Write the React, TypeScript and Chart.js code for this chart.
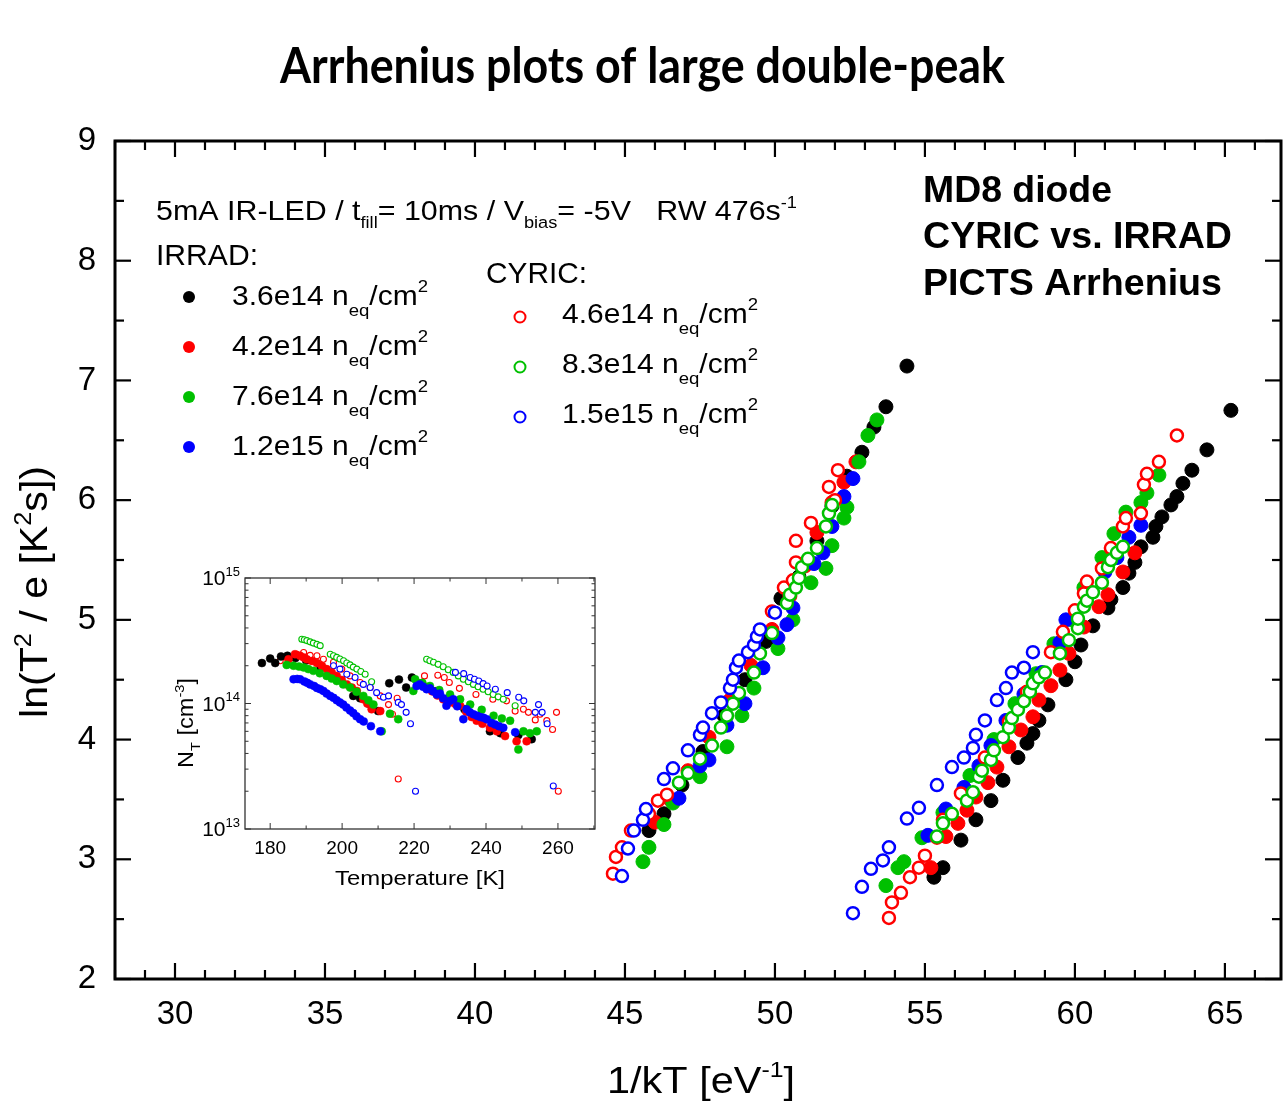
import React, { useEffect, useRef } from 'react';
import { Chart, registerables } from 'chart.js';
Chart.register(...registerables);

type P = [number, number];

// ---------- main chart data: [1/kT (eV^-1), ln(T^2/e)] ----------
const IRRAD_36E14: P[] = [
  [45.8, 3.24], [46.3, 3.38], [46.9, 3.62], [47.6, 3.9], [48.3, 4.2], [49.0, 4.5], [49.7, 4.82], [50.2, 5.18],
  [50.8, 5.36], [51.4, 5.66], [51.9, 5.95], [52.4, 6.2], [52.9, 6.4], [53.3, 6.61], [53.7, 6.78], [54.4, 7.12],
  [55.3, 2.85], [55.6, 2.93], [56.2, 3.16], [56.7, 3.33], [57.2, 3.49], [57.6, 3.66], [58.1, 3.85], [58.4, 3.97],
  [58.6, 4.05], [58.8, 4.16], [59.1, 4.29], [59.7, 4.5], [60.0, 4.65], [60.2, 4.79], [60.6, 4.95], [61.1, 5.1],
  [61.2, 5.17], [61.6, 5.27], [61.8, 5.39], [62.0, 5.48], [62.2, 5.61], [62.6, 5.69], [62.7, 5.78], [62.9, 5.86],
  [63.2, 5.96], [63.4, 6.03], [63.6, 6.14], [63.9, 6.25], [64.4, 6.42], [65.2, 6.75],
];
const IRRAD_42E14: P[] = [
  [46.0, 3.31], [46.5, 3.5], [47.1, 3.74], [47.8, 4.02], [48.5, 4.33], [49.2, 4.62], [49.9, 4.92], [50.5, 5.2],
  [51.0, 5.45], [51.4, 5.73], [51.9, 5.98], [52.3, 6.15], [52.7, 6.32],
  [55.2, 2.93], [55.7, 3.19], [56.1, 3.3], [56.4, 3.41], [56.7, 3.52], [57.1, 3.64], [57.4, 3.77], [57.8, 3.94],
  [58.2, 4.08], [58.6, 4.19], [58.8, 4.33], [59.2, 4.45], [59.5, 4.58], [59.8, 4.72], [60.3, 4.94], [60.8, 5.11],
  [61.1, 5.21], [61.6, 5.4], [62.0, 5.56],
];
const IRRAD_76E14: P[] = [
  [45.6, 2.98], [45.8, 3.1], [46.3, 3.29], [46.6, 3.47], [47.5, 3.69], [48.4, 3.94], [48.9, 4.2], [49.3, 4.43],
  [50.1, 4.76], [50.6, 5.0], [51.2, 5.31], [51.7, 5.43], [51.9, 5.62], [52.3, 5.85], [52.4, 5.94], [52.8, 6.32],
  [53.1, 6.54], [53.4, 6.67],
  [53.7, 2.78], [54.1, 2.93], [54.3, 2.98], [54.9, 3.18], [55.6, 3.39], [56.5, 3.7], [57.3, 4.0], [58.0, 4.3],
  [58.7, 4.55], [59.3, 4.8], [59.9, 5.0], [60.3, 5.27], [60.9, 5.52], [61.3, 5.72], [61.7, 5.9], [62.2, 5.98],
  [62.4, 6.06], [62.8, 6.21],
];
const IRRAD_12E15: P[] = [
  [46.8, 3.51], [47.5, 3.78], [47.8, 3.83], [48.4, 4.12], [49.0, 4.3], [49.6, 4.6], [50.1, 4.85], [50.4, 4.96],
  [50.6, 5.1], [51.3, 5.47], [51.6, 5.56], [51.9, 5.78], [52.3, 6.03], [52.6, 6.18],
  [55.1, 3.2], [55.7, 3.42], [56.3, 3.6], [56.8, 3.78], [57.2, 3.95], [57.7, 4.16], [58.3, 4.38], [58.9, 4.56],
  [59.5, 4.81], [59.7, 5.0], [60.4, 5.2], [61.0, 5.4], [61.4, 5.52], [61.8, 5.69], [62.2, 5.79],
];
const CYRIC_46E14: P[] = [
  [44.6, 2.88], [44.7, 3.02], [44.9, 3.1], [45.2, 3.24], [45.8, 3.38], [46.1, 3.49], [46.4, 3.54], [49.9, 5.07],
  [50.3, 5.27], [50.6, 5.33], [50.7, 5.48], [50.7, 5.66], [51.2, 5.81], [52.0, 6.0], [51.8, 6.11], [52.1, 6.25],
  [53.8, 2.51], [53.9, 2.64], [54.2, 2.72], [54.5, 2.85], [54.8, 2.93], [55.0, 3.03], [55.4, 3.18], [55.6, 3.33],
  [56.2, 3.55], [57.0, 3.85], [57.8, 4.15], [58.4, 4.4], [59.2, 4.73], [59.6, 4.9], [60.0, 5.08], [60.3, 5.22],
  [60.4, 5.32], [60.9, 5.43], [61.2, 5.6], [61.6, 5.78], [61.7, 5.85], [62.2, 5.89], [62.3, 6.13], [62.4, 6.22],
  [62.8, 6.32], [63.4, 6.54],
];
const CYRIC_83E14: P[] = [
  [46.8, 3.64], [47.1, 3.72], [47.5, 3.84], [47.9, 3.95], [48.2, 4.1], [48.4, 4.2], [48.6, 4.3], [48.8, 4.39],
  [49.3, 4.56], [49.5, 4.72], [49.9, 4.89], [50.4, 5.14], [50.5, 5.21], [50.7, 5.27], [50.8, 5.35], [50.9, 5.44],
  [51.1, 5.51], [51.4, 5.6], [51.7, 5.78], [51.8, 5.89], [51.9, 5.96],
  [55.4, 3.19], [55.6, 3.3], [55.9, 3.38], [56.4, 3.49], [56.6, 3.56], [56.8, 3.69], [56.9, 3.74], [57.2, 3.83],
  [57.3, 3.91], [57.6, 4.02], [57.8, 4.1], [57.9, 4.18], [58.1, 4.25], [58.3, 4.32], [58.5, 4.4], [58.6, 4.47],
  [58.8, 4.52], [59.0, 4.56], [59.5, 4.72], [59.8, 4.83], [60.1, 4.93], [60.1, 5.01], [60.3, 5.11], [60.4, 5.16],
  [60.6, 5.23], [60.9, 5.31], [61.1, 5.44], [61.2, 5.5], [61.4, 5.56], [61.6, 5.61],
];
const CYRIC_15E15: P[] = [
  [44.9, 2.86], [45.1, 3.09], [45.3, 3.24], [45.6, 3.33], [45.7, 3.42], [46.3, 3.67], [46.6, 3.76], [47.1, 3.91],
  [47.5, 4.04], [47.6, 4.1], [47.9, 4.22], [48.2, 4.31], [48.5, 4.43], [48.6, 4.5], [48.7, 4.6], [48.8, 4.66],
  [49.1, 4.73], [49.3, 4.79], [49.4, 4.86], [49.5, 4.92], [50.0, 5.06],
  [52.6, 2.55], [52.9, 2.77], [53.2, 2.92], [53.6, 2.99], [53.8, 3.1], [54.4, 3.34], [54.8, 3.43], [55.4, 3.62],
  [55.9, 3.77], [56.3, 3.85], [56.6, 3.93], [56.7, 4.04], [57.0, 4.16], [57.4, 4.33], [57.7, 4.43], [57.9, 4.56],
  [58.3, 4.6], [58.6, 4.73],
];

// ---------- inset data: [Temperature (K), N_T (cm^-3)] ----------
const INSET_IRRAD_36E14: P[] = [
  [177.7, 2.1e14], [180, 2.28e14], [181.4, 2.1e14], [183, 2.37e14], [184.8, 2.4e14], [187, 2.3e14], [190, 2.2e14],
  [194, 1.95e14], [198, 1.6e14], [203.1, 1.15e14], [205, 1.1e14], [207.3, 1.0e14], [210, 0.87e14],
  [213.1, 1.45e14], [215.8, 1.55e14], [217.8, 1.34e14], [219.4, 1.61e14], [222, 1.45e14], [226, 1.25e14],
  [230, 1.05e14], [234, 0.9e14], [238, 0.75e14], [241.1, 0.6e14], [244, 0.58e14], [249, 0.56e14], [252.7, 0.52e14],
];
const INSET_IRRAD_42E14: P[] = [
  [185.1, 2.25e14], [186.9, 2.47e14], [188.3, 2.4e14], [189.3, 2.33e14], [190.2, 2.25e14], [191.6, 2.18e14],
  [193, 2.1e14], [194.4, 1.99e14], [195.7, 1.88e14], [197.1, 1.77e14], [198.5, 1.66e14], [199.9, 1.54e14],
  [201.3, 1.42e14], [202.7, 1.34e14], [204.1, 1.26e14], [205.9, 1.08e14], [207, 1.0e14], [208.2, 0.9e14],
  [210.6, 0.87e14], [222.6, 1.38e14], [224, 1.32e14], [225, 1.25e14], [226.5, 1.16e14], [228.1, 1.08e14],
  [230, 1.02e14], [231.5, 0.99e14], [232.8, 0.96e14], [234.5, 0.86e14], [236, 0.78e14], [237.4, 0.73e14],
  [239, 0.69e14], [241.1, 0.64e14], [243, 0.6e14], [245.3, 0.55e14], [248.5, 0.5e14], [251.3, 0.5e14],
];
const INSET_IRRAD_76E14: P[] = [
  [184.6, 2.03e14], [186.5, 2.0e14], [188, 1.97e14], [189.3, 1.94e14], [190.6, 1.88e14], [192, 1.82e14],
  [193.8, 1.74e14], [195.7, 1.66e14], [197.1, 1.58e14], [198.5, 1.51e14], [200.3, 1.42e14], [202.2, 1.34e14],
  [204, 1.24e14], [205.9, 1.15e14], [207.3, 1.06e14], [208.7, 0.98e14], [211, 0.6e14], [213.3, 0.83e14],
  [215.6, 0.75e14], [219.8, 1.26e14], [220.3, 1.56e14], [222.3, 1.46e14], [224.4, 1.38e14], [227, 1.28e14],
  [230, 1.18e14], [232.8, 1.08e14], [235.6, 0.98e14], [238.8, 0.89e14], [242.1, 0.8e14], [244.4, 0.76e14],
  [246.7, 0.73e14], [249, 0.43e14], [250.4, 0.6e14], [252.2, 0.58e14], [254.1, 0.6e14],
];
const INSET_IRRAD_12E15: P[] = [
  [186.5, 1.56e14], [187.5, 1.57e14], [188.3, 1.56e14], [189.5, 1.5e14], [190.3, 1.46e14], [191.1, 1.42e14],
  [192.2, 1.38e14], [193.0, 1.33e14], [193.9, 1.3e14], [194.8, 1.26e14], [195.7, 1.2e14], [196.7, 1.15e14],
  [197.6, 1.11e14], [198.5, 1.06e14], [199.4, 1.02e14], [200.3, 0.98e14], [201.2, 0.93e14], [202.2, 0.88e14],
  [203.1, 0.84e14], [204.0, 0.79e14], [205.0, 0.75e14], [206.0, 0.72e14], [208.0, 0.66e14], [210.6, 0.6e14],
  [220.7, 1.38e14], [221.6, 1.42e14], [222.5, 1.36e14], [223.5, 1.3e14], [224.4, 1.32e14], [225.3, 1.25e14],
  [226.3, 1.18e14], [227.2, 1.2e14], [228.1, 1.1e14], [229, 0.96e14], [230, 1.05e14], [230.9, 1.08e14],
  [232, 0.95e14], [233.7, 0.75e14], [234.6, 0.9e14], [235.5, 0.85e14], [236.5, 0.82e14], [237.5, 0.8e14],
  [238.4, 0.78e14], [239.3, 0.77e14], [240.2, 0.75e14], [241.5, 0.7e14], [242.5, 0.68e14], [243.6, 0.66e14],
  [244.8, 0.64e14], [248.1, 0.59e14],
];
const INSET_CYRIC_46E14: P[] = [
  [182.8, 2.19e14], [184.6, 2.33e14], [187.4, 2.47e14], [189.3, 2.55e14], [191.1, 2.42e14], [193, 2.4e14],
  [194.8, 2.25e14], [197.6, 2.13e14], [199.9, 1.88e14], [202.2, 1.66e14], [205, 1.47e14], [207.8, 1.34e14],
  [210.6, 1.15e14], [212.9, 0.98e14], [214, 0.82e14], [215.6, 0.25e14], [215.3, 1.1e14], [222.9, 1.66e14],
  [226.6, 1.68e14], [228.4, 1.61e14], [229.8, 1.47e14], [232.6, 1.32e14], [237.2, 1.18e14], [241.9, 1.08e14],
  [245.7, 1.05e14], [248.1, 0.87e14], [250.4, 0.9e14], [251.8, 0.85e14], [253.7, 0.74e14], [255, 0.82e14],
  [256.9, 0.73e14], [258.5, 0.62e14], [259.6, 0.85e14], [260.1, 0.2e14],
];
const INSET_CYRIC_83E14: P[] = [
  [188.8, 3.25e14], [189.5, 3.22e14], [190.2, 3.17e14], [191.1, 3.1e14], [192, 3.03e14], [193, 2.96e14],
  [193.9, 2.89e14], [196.7, 2.47e14], [197.6, 2.4e14], [198.5, 2.33e14], [199.4, 2.26e14], [200.4, 2.19e14],
  [201.3, 2.1e14], [202.2, 2.03e14], [203.1, 1.95e14], [204.1, 1.88e14], [205.2, 1.8e14], [206.4, 1.71e14],
  [208.2, 1.49e14], [223.5, 2.25e14], [224.4, 2.19e14], [225.4, 2.13e14], [226.7, 2.05e14], [228.1, 1.96e14],
  [229.5, 1.86e14], [230.9, 1.77e14], [232.3, 1.66e14], [233.7, 1.56e14], [235.1, 1.49e14], [236.5, 1.42e14],
  [237.8, 1.36e14], [239.2, 1.3e14], [240.6, 1.24e14], [242, 1.18e14], [243.4, 1.13e14], [244.8, 1.08e14],
  [248.1, 0.96e14],
];
const INSET_CYRIC_15E15: P[] = [
  [197.6, 2.0e14], [199.4, 1.88e14], [201.3, 1.71e14], [203.6, 1.61e14], [205.9, 1.42e14], [207.8, 1.34e14],
  [209.6, 1.22e14], [211.5, 1.12e14], [212.9, 1.15e14], [215.6, 1.02e14], [216.5, 0.98e14], [217.8, 0.85e14],
  [219, 0.69e14], [220.4, 0.2e14], [231.5, 1.77e14], [233.8, 1.73e14], [235.6, 1.61e14], [236.8, 1.56e14],
  [238, 1.51e14], [239.2, 1.44e14], [240.3, 1.38e14], [242.6, 1.3e14], [245.9, 1.22e14], [249.1, 1.12e14],
  [250.5, 1.05e14], [253.7, 0.85e14], [254.6, 0.98e14], [255.6, 0.85e14], [257, 0.69e14], [258.7, 0.22e14],
];

// ---------- ticks ----------
const X_TICKS = [30, 35, 40, 45, 50, 55, 60, 65];
const Y_TICKS = [2, 3, 4, 5, 6, 7, 8, 9];
const INSET_X_TICKS = [180, 200, 220, 240, 260];
const INSET_Y_TICKS = [1e13, 1e14, 1e15];
const INSET_Y_EXP = ['13', '14', '15'];

// ---------- legend labels ----------
const IRRAD_LABELS = ['3.6e14', '4.2e14', '7.6e14', '1.2e15'];
const CYRIC_LABELS = ['4.6e14', '8.3e14', '1.5e15'];

const RED = '#ff0000';
const GREEN = '#00c000';
const BLUE = '#0000ff';
const BLACK = '#000000';
const SANS = '"Liberation Sans", Arial, sans-serif';

type Seg = { t: string; m?: 'sup' | 'sub' };

function drawRich(
  ctx: CanvasRenderingContext2D,
  segs: Seg[],
  x: number,
  y: number,
  o: { size: number; family?: string; weight?: string; align?: 'left' | 'center' | 'right'; width?: number; small?: number; rise?: number; drop?: number }
) {
  const fam = o.family || SANS;
  const wt = o.weight || 'normal';
  const small = o.small ?? 0.62;
  const rise = o.rise ?? 0.45;
  const drop = o.drop ?? 0.33;
  const fonts = segs.map((s) => `${wt} ${s.m ? o.size * small : o.size}px ${fam}`);
  const widths = segs.map((s, i) => {
    ctx.font = fonts[i];
    return ctx.measureText(s.t).width;
  });
  const nat = widths.reduce((a, b) => a + b, 0);
  const k = o.width ? o.width / nat : 1;
  const total = nat * k;
  const x0 = o.align === 'center' ? x - total / 2 : o.align === 'right' ? x - total : x;
  ctx.save();
  ctx.translate(x0, y);
  ctx.scale(k, 1);
  ctx.textAlign = 'left';
  ctx.textBaseline = 'alphabetic';
  ctx.fillStyle = '#000';
  let cx = 0;
  segs.forEach((s, i) => {
    ctx.font = fonts[i];
    const dy = s.m === 'sup' ? -o.size * rise : s.m === 'sub' ? o.size * drop : 0;
    ctx.fillText(s.t, cx, dy);
    cx += widths[i];
  });
  ctx.restore();
}

function ds(label: string, pts: P[], color: string, filled: boolean, order: number, inset: boolean) {
  return {
    label,
    data: pts.map(([x, y]) => ({ x, y })),
    pointRadius: inset ? (filled ? 4 : 3) : filled ? 7 : 6,
    pointBorderWidth: inset ? (filled ? 0.5 : 1.1) : filled ? 1 : 2.5,
    pointBackgroundColor: filled ? color : '#ffffff',
    pointBorderColor: color,
    pointHoverRadius: 0,
    showLine: false,
    order,
  };
}

const zeroPad = (s: any) => {
  s.paddingLeft = 0;
  s.paddingRight = 0;
  s.paddingTop = 0;
  s.paddingBottom = 0;
};

// nudge the layout so the plot frame's right edge sits where wanted
function fitRight(chart: any, opts: any, target: number) {
  for (let i = 0; i < 4; i++) {
    const d = chart.chartArea.right - target;
    if (Math.abs(d) < 0.25) break;
    opts.layout.padding.right += d;
    chart.update();
  }
}

const mainDecor = {
  id: 'mainDecor',
  afterDraw(chart: any) {
    const { ctx, chartArea: a, scales } = chart;
    const xs = scales.x;
    const ys = scales.y;
    ctx.save();
    ctx.strokeStyle = '#000';
    ctx.lineCap = 'butt';
    ctx.lineWidth = 2.2;
    const line = (x1: number, y1: number, x2: number, y2: number) => {
      ctx.beginPath();
      ctx.moveTo(x1, y1);
      ctx.lineTo(x2, y2);
      ctx.stroke();
    };
    for (let v = 28; v <= 66; v++) {
      const px = xs.getPixelForValue(v);
      const L = v % 5 === 0 ? 16 : 9;
      line(px, a.bottom, px, a.bottom - L);
      line(px, a.top, px, a.top + L);
    }
    for (let i = 4; i <= 18; i++) {
      const v = i / 2;
      const py = ys.getPixelForValue(v);
      const L = i % 2 === 0 ? 16 : 9;
      line(a.left, py, a.left + L, py);
      line(a.right, py, a.right - L, py);
    }
    ctx.lineWidth = 3;
    ctx.strokeRect(a.left, a.top, a.right - a.left, a.bottom - a.top);

    // title
    drawRich(ctx, [{ t: 'Arrhenius plots of large double-peak' }], 642.5, 83, {
      size: 50, family: 'Lato, "Open Sans", sans-serif', weight: 'bold', align: 'center', width: 725,
    });
    // condition line
    drawRich(
      ctx,
      [{ t: '5mA IR-LED / t' }, { t: 'fill', m: 'sub' }, { t: '= 10ms / V' }, { t: 'bias', m: 'sub' }, { t: '= -5V   RW 476s' }, { t: '-1', m: 'sup' }],
      156, 220, { size: 28, width: 641, small: 0.6, drop: 0.3, rise: 0.42 }
    );
    drawRich(ctx, [{ t: 'IRRAD:' }], 156, 265, { size: 29, width: 102 });
    drawRich(ctx, [{ t: 'CYRIC:' }], 486, 283, { size: 29, width: 101 });

    const filledColors = [BLACK, RED, GREEN, BLUE];
    IRRAD_LABELS.forEach((lab, i) => {
      const cy = 297 + i * 50;
      ctx.beginPath();
      ctx.arc(189, cy, 6, 0, Math.PI * 2);
      ctx.fillStyle = filledColors[i];
      ctx.fill();
      drawRich(ctx, [{ t: lab + ' n' }, { t: 'eq', m: 'sub' }, { t: '/cm' }, { t: '2', m: 'sup' }], 232, 305 + i * 50, {
        size: 28, width: 196, small: 0.62, drop: 0.38, rise: 0.45,
      });
    });
    const openColors = [RED, GREEN, BLUE];
    CYRIC_LABELS.forEach((lab, i) => {
      const cy = 317 + i * 50;
      ctx.beginPath();
      ctx.arc(520, cy, 5.5, 0, Math.PI * 2);
      ctx.fillStyle = '#fff';
      ctx.fill();
      ctx.lineWidth = 2;
      ctx.strokeStyle = openColors[i];
      ctx.stroke();
      drawRich(ctx, [{ t: lab + ' n' }, { t: 'eq', m: 'sub' }, { t: '/cm' }, { t: '2', m: 'sup' }], 562, 323 + i * 50, {
        size: 28, width: 196, small: 0.62, drop: 0.38, rise: 0.45,
      });
    });

    // right bold block
    drawRich(ctx, [{ t: 'MD8 diode' }], 923, 202, { size: 37, weight: 'bold', width: 189 });
    drawRich(ctx, [{ t: 'CYRIC vs. IRRAD' }], 923, 248, { size: 37, weight: 'bold', width: 309 });
    drawRich(ctx, [{ t: 'PICTS Arrhenius' }], 923, 295, { size: 37, weight: 'bold', width: 299 });

    // axis titles
    drawRich(ctx, [{ t: '1/kT [eV' }, { t: '-1', m: 'sup' }, { t: ']' }], 701, 1093, {
      size: 37, align: 'center', width: 188, small: 0.6, rise: 0.42,
    });
    ctx.save();
    ctx.translate(47, 592);
    ctx.rotate(-Math.PI / 2);
    drawRich(ctx, [{ t: 'ln(T' }, { t: '2', m: 'sup' }, { t: ' / e [K' }, { t: '2', m: 'sup' }, { t: 's])' }], 0, 0, {
      size: 38, align: 'center', width: 252, small: 0.62, rise: 0.42,
    });
    ctx.restore();
    ctx.restore();
  },
};

const insetDecor = {
  id: 'insetDecor',
  beforeDatasetsDraw(chart: any) {
    const { ctx, chartArea: a } = chart;
    ctx.save();
    ctx.fillStyle = '#fff';
    ctx.fillRect(a.left, a.top, a.right - a.left, a.bottom - a.top);
    ctx.restore();
  },
  afterDraw(chart: any) {
    const { ctx, chartArea: a, scales } = chart;
    const xs = scales.x;
    const ys = scales.y;
    ctx.save();
    ctx.strokeStyle = '#333';
    ctx.lineWidth = 1;
    const line = (x1: number, y1: number, x2: number, y2: number) => {
      ctx.beginPath();
      ctx.moveTo(x1, y1);
      ctx.lineTo(x2, y2);
      ctx.stroke();
    };
    for (let v = 180; v <= 270; v += 10) {
      const px = xs.getPixelForValue(v);
      const L = v % 20 === 0 ? 6 : 3.5;
      line(px, a.bottom, px, a.bottom - L);
      line(px, a.top, px, a.top + L);
    }
    for (let e = 13; e <= 14; e++) {
      for (let m = 1; m <= 10; m++) {
        const py = ys.getPixelForValue(m * Math.pow(10, e));
        const L = m === 1 || m === 10 ? 6 : 3.5;
        line(a.left, py, a.left + L, py);
        line(a.right, py, a.right - L, py);
      }
    }
    ctx.lineWidth = 1.3;
    ctx.strokeRect(a.left, a.top, a.right - a.left, a.bottom - a.top);

    INSET_Y_TICKS.forEach((v, i) => {
      const py = ys.getPixelForValue(v);
      drawRich(ctx, [{ t: '10' }, { t: INSET_Y_EXP[i], m: 'sup' }], 80, py + 7, { size: 21, align: 'right', small: 0.62, rise: 0.45 });
    });
    drawRich(ctx, [{ t: 'Temperature [K]' }], 260, 325, { size: 21, align: 'center', width: 170 });
    ctx.save();
    ctx.translate(33, 163);
    ctx.rotate(-Math.PI / 2);
    drawRich(ctx, [{ t: 'N' }, { t: 'T', m: 'sub' }, { t: ' [cm' }, { t: '-3', m: 'sup' }, { t: ']' }], 0, 0, {
      size: 22, align: 'center', width: 90, small: 0.62, rise: 0.42, drop: 0.3,
    });
    ctx.restore();
    ctx.restore();
  },
};

export default function App() {
  const mainRef = useRef<HTMLCanvasElement | null>(null);
  const insetRef = useRef<HTMLCanvasElement | null>(null);

  useEffect(() => {
    if (!mainRef.current || !insetRef.current) return;
    const mainOpts: any = {
      responsive: false,
      animation: false,
      events: [],
      layout: { autoPadding: false, padding: { top: 141, right: 2, left: 0, bottom: 0 } },
      plugins: { legend: { display: false }, tooltip: { enabled: false }, title: { display: false } },
      scales: {
        x: {
          type: 'linear',
          min: 28,
          max: 66.87,
          afterBuildTicks: (s: any) => {
            s.ticks = X_TICKS.map((v) => ({ value: v }));
          },
          afterFit: (s: any) => {
            s.height = 128;
            zeroPad(s);
          },
          grid: { display: false, drawTicks: false },
          border: { display: false },
          ticks: { font: { family: SANS, size: 33 }, color: '#000', padding: 16, maxRotation: 0, autoSkip: false },
        },
        y: {
          type: 'linear',
          min: 2,
          max: 9,
          afterBuildTicks: (s: any) => {
            s.ticks = Y_TICKS.map((v) => ({ value: v }));
          },
          afterFit: (s: any) => {
            s.width = 115;
            zeroPad(s);
          },
          grid: { display: false, drawTicks: false },
          border: { display: false },
          ticks: { font: { family: SANS, size: 33 }, color: '#000', padding: 19, autoSkip: false },
        },
      },
    };
    const main = new Chart(mainRef.current, {
      type: 'scatter',
      data: {
        datasets: [
          ds('1.5e15 CYRIC', CYRIC_15E15, BLUE, false, 0, false),
          ds('8.3e14 CYRIC', CYRIC_83E14, GREEN, false, 1, false),
          ds('4.6e14 CYRIC', CYRIC_46E14, RED, false, 2, false),
          ds('1.2e15 IRRAD', IRRAD_12E15, BLUE, true, 3, false),
          ds('7.6e14 IRRAD', IRRAD_76E14, GREEN, true, 4, false),
          ds('4.2e14 IRRAD', IRRAD_42E14, RED, true, 5, false),
          ds('3.6e14 IRRAD', IRRAD_36E14, BLACK, true, 6, false),
        ] as any,
      },
      options: mainOpts,
      plugins: [mainDecor],
    });
    fitRight(main, mainOpts, 1281);

    const insetOpts: any = {
      responsive: false,
      animation: false,
      events: [],
      layout: { autoPadding: false, padding: { top: 18, right: 15, left: 0, bottom: 0 } },
      plugins: { legend: { display: false }, tooltip: { enabled: false }, title: { display: false } },
      scales: {
        x: {
          type: 'linear',
          min: 173,
          max: 270.3,
          afterBuildTicks: (s: any) => {
            s.ticks = INSET_X_TICKS.map((v) => ({ value: v }));
          },
          afterFit: (s: any) => {
            s.height = 76;
            zeroPad(s);
          },
          grid: { display: false, drawTicks: false },
          border: { display: false },
          ticks: { font: { family: SANS, size: 19 }, color: '#000', padding: 8, maxRotation: 0, autoSkip: false },
        },
        y: {
          type: 'logarithmic',
          min: 1e13,
          max: 1e15,
          afterBuildTicks: (s: any) => {
            s.ticks = INSET_Y_TICKS.map((v) => ({ value: v }));
          },
          afterFit: (s: any) => {
            s.width = 85;
            zeroPad(s);
          },
          grid: { display: false, drawTicks: false },
          border: { display: false },
          ticks: { display: false },
        },
      },
    };
    const inset = new Chart(insetRef.current, {
      type: 'scatter',
      data: {
        datasets: [
          ds('1.2e15 IRRAD', INSET_IRRAD_12E15, BLUE, true, 0, true),
          ds('7.6e14 IRRAD', INSET_IRRAD_76E14, GREEN, true, 1, true),
          ds('4.2e14 IRRAD', INSET_IRRAD_42E14, RED, true, 2, true),
          ds('3.6e14 IRRAD', INSET_IRRAD_36E14, BLACK, true, 3, true),
          ds('1.5e15 CYRIC', INSET_CYRIC_15E15, BLUE, false, 4, true),
          ds('8.3e14 CYRIC', INSET_CYRIC_83E14, GREEN, false, 5, true),
          ds('4.6e14 CYRIC', INSET_CYRIC_46E14, RED, false, 6, true),
        ] as any,
      },
      options: insetOpts,
      plugins: [insetDecor],
    });
    fitRight(inset, insetOpts, 435);

    return () => {
      main.destroy();
      inset.destroy();
    };
  }, []);

  return (
    <div style={{ position: 'absolute', left: 0, top: 0, width: 1283, height: 1107, background: '#fff', overflow: 'hidden' }}>
      <canvas ref={mainRef} width={1283} height={1107} style={{ position: 'absolute', left: 0, top: 0, width: 1283, height: 1107 }} />
      <canvas ref={insetRef} width={450} height={345} style={{ position: 'absolute', left: 160, top: 560, width: 450, height: 345 }} />
    </div>
  );
}
